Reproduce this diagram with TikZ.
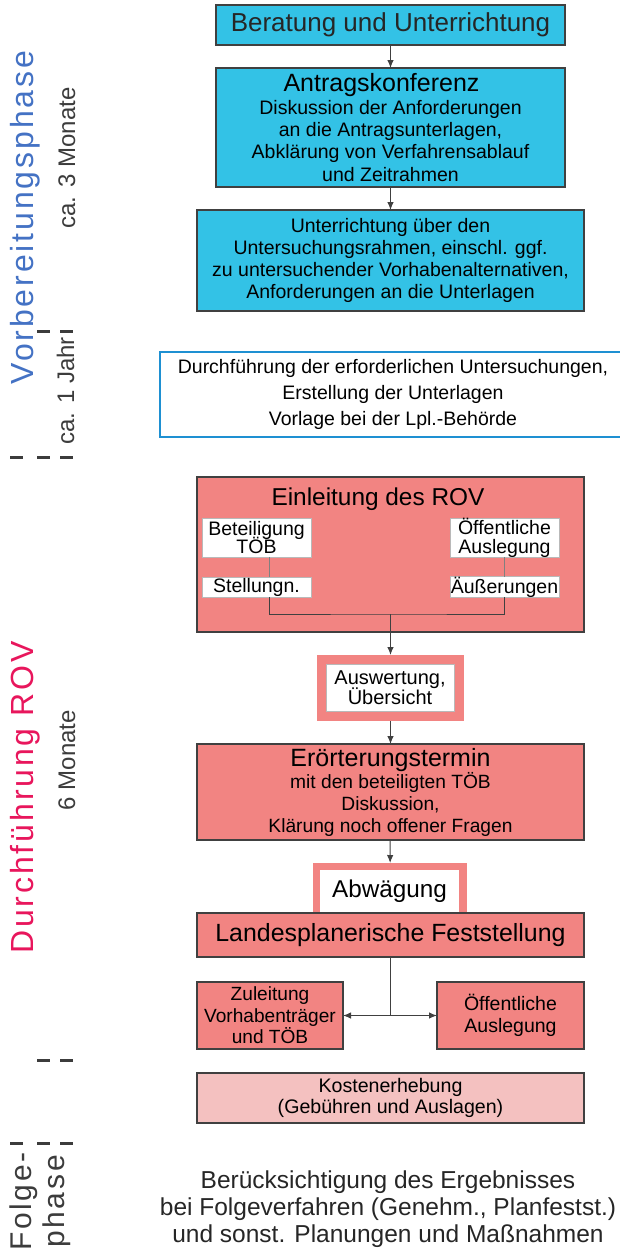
\documentclass[tikz,border=0pt]{standalone}
\usepackage{fontspec}
\setmainfont{Liberation Sans}
\newfontfamily\widefont[LetterSpace=9.0]{Liberation Sans}
\usetikzlibrary{arrows.meta}

\definecolor{rovcyan}{RGB}{51,194,230}
\definecolor{rovsalmon}{RGB}{242,132,130}
\definecolor{rovpink}{RGB}{244,193,192}
\definecolor{rovframe}{RGB}{64,64,64}
\definecolor{rovblue}{RGB}{30,144,210}
\definecolor{phaseblue}{RGB}{68,114,196}
\definecolor{phasered}{RGB}{232,22,92}
\definecolor{labelgray}{RGB}{60,60,60}

\newcommand{\headsize}{\fontsize{25}{25}\selectfont}
\newcommand{\tightsize}[2]{\fontsize{#1}{#2}\selectfont\setlength{\lineskiplimit}{-30pt}\relax}

\begin{document}
\begin{tikzpicture}[x=1pt, y=-1pt, font=\fontsize{19.5}{22.3}\selectfont, line join=miter,
    every node/.style={inner sep=0pt, outer sep=0pt, align=center},
    cyanbox/.style={draw=rovframe, line width=1.2pt, fill=rovcyan},
    rovbox/.style={draw=rovframe, line width=1.2pt, fill=rovsalmon},
    whitebox/.style={draw=gray!55, line width=0.8pt, fill=white},
    tightlines/.style={font=\tightsize{19.5}{18.8}},
    flow/.style={draw=rovframe, line width=1pt, -{Latex[length=8pt,width=6.5pt]}},
    link/.style={draw=rovframe, line width=1pt},
    sidelabel/.style={rotate=90, anchor=base, text=labelgray, font=\fontsize{24}{24}\selectfont},
    phaselabel/.style={rotate=90, anchor=base, font=\widefont\fontsize{32}{33}\selectfont}]
    \useasboundingbox (0,0) rectangle (619,1253);

    % Vorbereitungsphase
    \node[cyanbox, minimum width=349pt, minimum height=40pt, text=black!85, font=\fontsize{26}{26}\selectfont] (beratung) at (390.5,25) {Beratung und Unterrichtung};
    \node[cyanbox, minimum width=349pt, minimum height=119pt] (antrag) at (390.5,127.5) {{\headsize Antragskonferenz\kern18pt}\\Diskussion der Anforderungen\\an die Antragsunterlagen,\\Abklärung von Verfahrensablauf\\und Zeitrahmen};
    \node[cyanbox, minimum width=387pt, minimum height=101pt, font=\fontsize{19.5}{21.7}\selectfont] (rahmen) at (390.5,260.5) {Unterrichtung über den\\Untersuchungsrahmen, einschl. ggf.\\zu untersuchender Vorhabenalternativen,\\Anforderungen an die Unterlagen};
    \node[draw=rovblue, line width=1.5pt, fill=white, minimum width=466pt, minimum height=85pt, font=\fontsize{19.5}{26}\selectfont] (unterlagen) at (393,394.5) {Durchführung der erforderlichen Untersuchungen,\\Erstellung der Unterlagen\\Vorlage bei der Lpl.-Behörde};

    \draw[flow] (beratung) -- (antrag);
    \draw[flow] (antrag) -- (rahmen);

    % Durchfuehrung ROV
    \node[rovbox, minimum width=387pt, minimum height=155pt] (einleitung) at (390.5,554.5) {};
    \node[anchor=base, font=\fontsize{24.4}{24.4}\selectfont] (einltitel) at (378,505) {Einleitung des ROV};
    \node[whitebox, tightlines, minimum width=109pt, minimum height=39pt] (toeb) at (256.5,537.5) {Beteiligung\\TÖB};
    \node[whitebox, tightlines, minimum width=109pt, minimum height=39pt] (auslegung) at (504.5,537.5) {Öffentliche\\Auslegung};
    \node[whitebox, minimum width=109pt, minimum height=20pt] (stellungn) at (256.5,587) {Stellungn.};
    \node[whitebox, minimum width=109pt, minimum height=20pt] (aeusserungen) at (504.5,587) {Äußerungen};

    \node[fill=rovsalmon, minimum width=147pt, minimum height=66pt] (auswertung) at (390.5,688) {};
    \node[whitebox, minimum width=128pt, minimum height=47pt, font=\tightsize{20}{20.5}] (uebersicht) at (390,687.5) {Auswertung,\\Übersicht};

    \node[rovbox, minimum width=387pt, minimum height=96pt, font=\fontsize{19.2}{22}\selectfont] (eroerterung) at (390.5,792) {{\headsize Erörterungstermin}\\mit den beteiligten TÖB\\Diskussion,\\Klärung noch offener Fragen};

    \node[fill=rovsalmon, minimum width=154pt, minimum height=50pt] (abwaegung) at (390,888) {};
    \node[fill=white, minimum width=139pt, minimum height=43pt, font=\fontsize{24.3}{24.3}\selectfont] (abwtext) at (389.5,891.5) {Abwägung};
    \node[rovbox, minimum width=387pt, minimum height=44pt, font=\fontsize{24.9}{25}\selectfont] (feststellung) at (390.5,935) {Landesplanerische Feststellung};

    \node[rovbox, minimum width=146pt, minimum height=67pt, font=\fontsize{19.1}{21.5}\selectfont] (zuleitung) at (270,1015.5) {Zuleitung\\Vorhabenträger\\und TÖB};
    \node[rovbox, minimum width=147pt, minimum height=67pt] (oeffentlich) at (510.5,1015.5) {Öffentliche\\Auslegung};
    \node[draw=rovframe, line width=1.2pt, fill=rovpink, minimum width=387pt, minimum height=50pt, font=\fontsize{19.6}{21}\selectfont] (kosten) at (390.5,1098) {Kostenerhebung\\(Gebühren und Auslagen)};

    \coordinate (sammel) at (auswertung.north |- 0,614);
    \coordinate (verteiler) at (feststellung.south |- 0,1015.5);

    \draw[draw=gray, line width=0.8pt] ([xshift=12.5pt]toeb.south) -- ([xshift=12.5pt]stellungn.north);
    \draw[draw=gray, line width=0.8pt] (auslegung.south) -- (aeusserungen.north);
    \draw[link] ([xshift=12.5pt]stellungn.south) |- (sammel) -| (aeusserungen.south);
    \draw[flow] (sammel) -- (auswertung.north);
    \draw[flow] (auswertung) -- (eroerterung);
    \draw[flow] (eroerterung) -- (abwaegung);
    \draw[link] (feststellung.south) -- (verteiler);
    \draw[flow] (verteiler) -- (zuleitung);
    \draw[flow] (verteiler) -- (oeffentlich);

    % Folgephase
    \node[text=black!85, font=\fontsize{24.5}{27}\selectfont] (folgetext) at (388,1209) {Berücksichtigung des Ergebnisses\\bei Folgeverfahren (Genehm., Planfestst.)\\und sonst. Planungen und Maßnahmen};

    % Phasen links
    \node[phaselabel, text=phaseblue] (vorbereitung) at (33,217.5) {Vorbereitungsphase};
    \node[sidelabel] (dreimonate) at (75,158) {ca. 3 Monate};
    \node[sidelabel] (einjahr) at (74,391) {ca. 1 Jahr};
    \node[phaselabel, text=phasered] (durchfuehrung) at (33,797.5) {Durchführung ROV};
    \node[sidelabel] (sechsmonate) at (75,760) {6 Monate};
    \node[phaselabel, anchor=center, text=labelgray, font=\widefont\fontsize{30}{33}\selectfont] (folgephase) at (40,1201.5) {Folge-\\phase};

    \foreach \x/\y in {37/331, 60/331, 10/457, 37/457, 60/457, 37/1060, 60/1060, 10/1143, 37/1143, 60/1143}
        \draw[labelgray, line width=3pt] (\x,\y) -- ++(13,0);
\end{tikzpicture}
\end{document}
